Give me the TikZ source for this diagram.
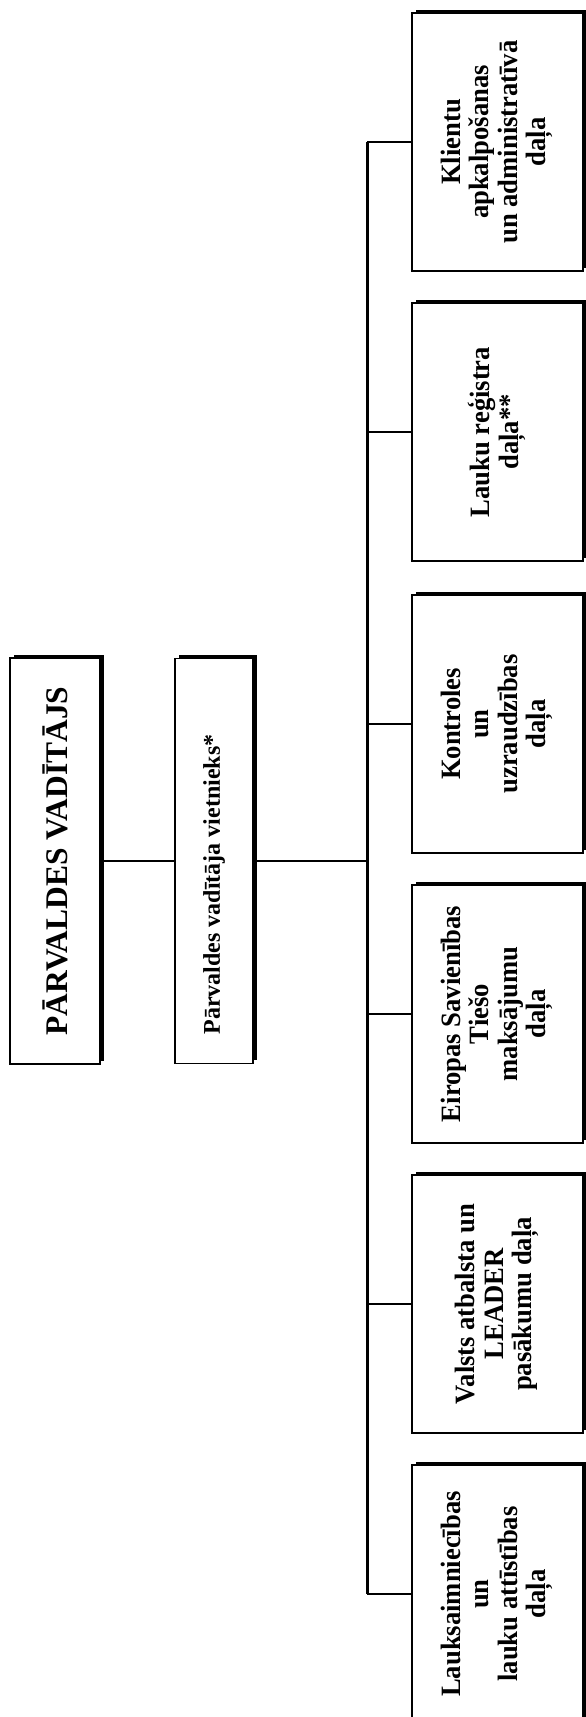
\documentclass[tikz,border=0pt]{standalone}
\usepackage{fontspec}
\setmainfont{Liberation Serif}
\usepackage{graphicx}
\usetikzlibrary{shadows}
\newcommand{\rottext}[1]{\rotatebox{90}{\scalebox{0.95}[1]{\begin{tabular}{@{}c@{}}#1\end{tabular}}}}
\begin{document}
\begin{tikzpicture}[x=1pt,y=-1pt,
  box/.style={draw=black, line width=1.8pt, fill=white, inner sep=0pt,
    drop shadow={shadow xshift=3.5pt, shadow yshift=3.5pt, fill=black, opacity=1}},
  dept/.style={box, minimum width=171pt, minimum height=258pt,
    font=\fontsize{28}{28.5}\selectfont\bfseries},
  wire/.style={line width=1.4pt},
  bus/.style={line width=3pt}]
\fill[white] (0,0) rectangle (586,1717);
\useasboundingbox (0,0) rectangle (586,1717);

\node[box, minimum width=90pt, minimum height=406pt,
  font=\fontsize{31.5}{34}\selectfont\bfseries] (b0) at (55,861)
  {\rotatebox{90}{PĀRVALDES VADĪTĀJS}};
\node[box, minimum width=78pt, minimum height=405pt,
  font=\fontsize{24}{29}\selectfont\bfseries] (b1) at (214,861)
  {\rotatebox{90}{Pārvaldes vadītāja vietnieks*\hspace{47pt}}};

\node[dept] (d1) at (497.5,142) {\rottext{Klientu\\apkalpošanas\\un administratīvā\\daļa}};
\node[dept] (d2) at (497.5,432) {\rottext{Lauku reģistra\\daļa**}};
\node[dept] (d3) at (497.5,724) {\rottext{Kontroles\\un\\uzraudzības\\daļa}};
\node[dept] (d4) at (497.5,1014) {\rottext{Eiropas Savienības\\Tiešo\\maksājumu\\daļa}};
\node[dept] (d5) at (497.5,1304) {\rottext{Valsts atbalsta un\\LEADER\\pasākumu daļa}};
\node[dept] (d6) at (497.5,1594) {\rottext{Lauksaimniecības\\un\\lauku attīstības\\daļa}};

\coordinate (bx) at (367,0);
\draw[bus] (bx |- d1.west) -- (bx |- d6.west);
\foreach \d in {d1,d2,d3,d4,d5,d6}{\draw[wire] (bx |- \d.west) -- (\d.west);}
\draw[wire] (b0.east) -- (b1.west);
\draw[wire] (b1.east) -- (bx |- b1.east);
\end{tikzpicture}
\end{document}
